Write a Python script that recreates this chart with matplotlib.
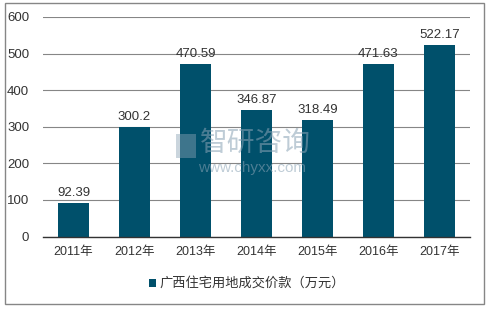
import matplotlib
matplotlib.use('Agg')
from matplotlib import pyplot as plt
from matplotlib.patches import Rectangle

plt.rcParams['font.family'] = ['Liberation Sans', 'Noto Sans CJK SC', 'DejaVu Sans']

years = ['2011年', '2012年', '2013年', '2014年', '2015年', '2016年', '2017年']
values = [92.39, 300.2, 470.59, 346.87, 318.49, 471.63, 522.17]
value_labels = ['92.39', '300.2', '470.59', '346.87', '318.49', '471.63', '522.17']
series_name = '广西住宅用地成交价款（万元）'
barColor = '#00506b'

fig = plt.figure(figsize=(4.88, 3.09), dpi=100)
W, H = 488, 309
ax = fig.add_axes([43/W, 1 - 236.5/H, (470-43)/W, (236.5-17)/H])

x = list(range(len(years)))
ax.bar(x, values, width=0.5, color=barColor, zorder=2, label=series_name)
for i in x:
    ax.text(i, values[i] + 11, value_labels[i], ha='center', va='bottom',
            fontsize=9.5, color='#333333')

ax.set_xlim(-0.5, len(years) - 0.5)
ax.set_ylim(0, 600)
ax.set_yticks(range(0, 601, 100))
ax.set_xticks(x)
ax.set_xticklabels(years, fontsize=9, color='#333333')
ax.tick_params(axis='y', labelsize=9.5, labelcolor='#333333', length=0, pad=10)
ax.tick_params(axis='x', length=0, pad=7)
ax.grid(axis='y', color='#868686', linewidth=0.8, zorder=0)
for s in ['left', 'right', 'top']:
    ax.spines[s].set_visible(False)
ax.spines['bottom'].set_color('#333333')
ax.spines['bottom'].set_linewidth(1)

# watermark
fig.text(200/W, 1 - 143/H, '智研咨询', fontsize=20, color='#8aa3b5', alpha=0.55,
         ha='left', va='center', family='Noto Sans CJK SC')
fig.text(198/W, 1 - 168/H, 'www.chyxx.com', fontsize=11, color='#8aa3b5', alpha=0.55,
         ha='left', va='center')
fig.patches.append(Rectangle((176/W, 1 - 158/H), 20/W, 24/H, transform=fig.transFigure,
                             facecolor='#8aa3b5', alpha=0.45, edgecolor='none'))

# legend
fig.patches.append(Rectangle((149/W, 1 - 287/H), 7/W, 8/H, transform=fig.transFigure,
                             facecolor=barColor, edgecolor='none'))
fig.text(159/W, 1 - 283/H, series_name, fontsize=9.5, color='#333333', va='center')

# outer border
fig.patches.append(Rectangle((4.5/W, 1 - 303.5/H), 479/W, 301/H, transform=fig.transFigure,
                             fill=False, edgecolor='#868686', linewidth=1))

fig.savefig('out.png', dpi=100)
